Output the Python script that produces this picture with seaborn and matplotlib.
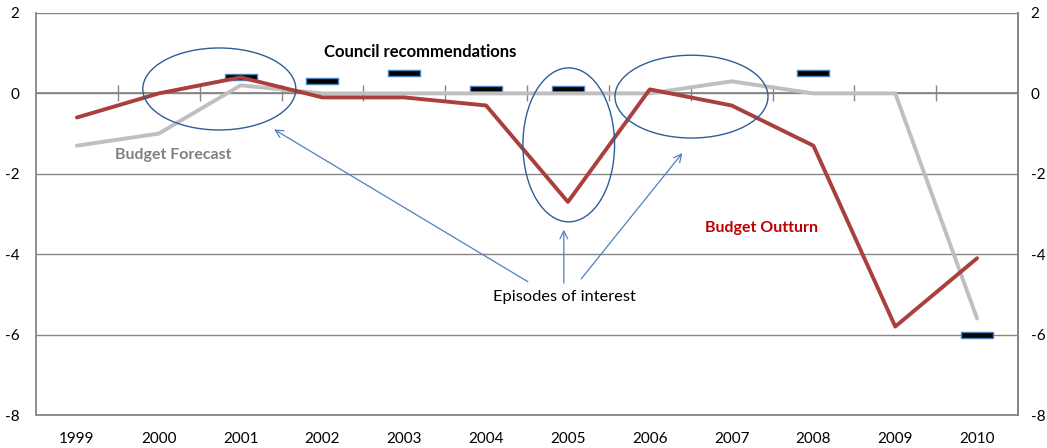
import matplotlib
matplotlib.use("Agg")
import matplotlib.pyplot as plt
import seaborn as sns
import pandas as pd
import numpy as np
from matplotlib.path import Path
from matplotlib.patches import Ellipse

years = [1999, 2000, 2001, 2002, 2003, 2004, 2005, 2006, 2007, 2008, 2009, 2010]
budget_outturn = [-0.6, 0.0, 0.4, -0.1, -0.1, -0.3, -2.7, 0.1, -0.3, -1.3, -5.8, -4.1]
budget_forecast = [-1.3, -1.0, 0.2, 0.0, 0.0, 0.0, 0.0, 0.0, 0.3, 0.0, 0.0, -5.6]
council_years = [2001, 2002, 2003, 2004, 2005, 2008, 2010]
council_values = [0.4, 0.3, 0.5, 0.1, 0.1, 0.5, -6.0]
y_ticks = [2, 0, -2, -4, -6, -8]

df = pd.DataFrame({"year": years, "outturn": budget_outturn, "forecast": budget_forecast})
dc = pd.DataFrame({"year": council_years, "value": council_values})

sns.set_theme(style="white")
plt.rcParams["font.family"] = ["Lato", "DejaVu Sans"]

GRID = "#868686"
fig = plt.figure(figsize=(10.47, 4.48), dpi=100)
ax = fig.add_axes([36/1047, 33/448, (1018-36)/1047, (415-13)/448])

# Council recommendation markers (flat rectangles)
rect = Path([(-1, -0.2), (1, -0.2), (1, 0.2), (-1, 0.2), (-1, -0.2)],
            [Path.MOVETO, Path.LINETO, Path.LINETO, Path.LINETO, Path.CLOSEPOLY])
sns.scatterplot(data=dc, x="year", y="value", marker=rect, s=500, color="black",
                edgecolor="#4F81BD", linewidth=1.0, ax=ax, zorder=2.8, legend=False)

sns.lineplot(data=df, x="year", y="forecast", color="#BFBFBF", lw=2.8, ax=ax, zorder=3)
sns.lineplot(data=df, x="year", y="outturn", color="#A9403C", lw=2.8, ax=ax, zorder=3.1)

ax.set_xlim(1998.5, 2010.5)
ax.set_ylim(-8, 2)
ax.set_yticks(y_ticks)
ax.set_yticklabels([str(v) for v in y_ticks])
ax.set_xticks(years)
ax.set_xticklabels([str(y) for y in years])
ax.set_xlabel("")
ax.set_ylabel("")

ax.yaxis.grid(True, color=GRID, lw=1.0)
ax.xaxis.grid(False)
for side in ["left", "right", "bottom"]:
    ax.spines[side].set_color(GRID)
    ax.spines[side].set_linewidth(1.3)
ax.spines["top"].set_visible(False)

ax.tick_params(axis="y", which="both", left=False, right=False, length=0,
               labelleft=True, labelright=False, labelsize=11, colors="black", pad=12)
ax.tick_params(axis="x", bottom=False, length=0, labelsize=11, pad=12, colors="black")

# Right-hand value axis
secy = ax.secondary_yaxis("right")
secy.set_yticks(y_ticks)
secy.set_yticklabels([str(v) for v in y_ticks])
secy.tick_params(length=0, pad=9, labelsize=11, colors="black")
secy.spines["right"].set_color(GRID)
secy.spines["right"].set_linewidth(1.3)

# Category axis crossing at zero with boundary ticks
secax = ax.secondary_xaxis(0.8)
secax.set_xticks([y + 0.5 for y in years[:-1]])
secax.set_xticklabels([])
secax.tick_params(direction="inout", length=12, width=1, color=GRID)
for s in secax.spines.values():
    s.set_color(GRID)
    s.set_linewidth(1.3)

# Episodes of interest
ell_col = "#2F5D95"
for (cx, cy, w, h) in [(2000.74, 0.11, 1.87, 2.04), (2005.01, -1.28, 1.12, 3.83),
                       (2006.51, -0.08, 1.87, 2.06)]:
    ax.add_patch(Ellipse((cx, cy), w, h, fill=False, edgecolor=ell_col, lw=1.0, zorder=4))

arrow_col = "#4F81BD"
for (tx, ty, hx, hy) in [(2004.54, -4.72, 2001.38, -0.86), (2004.95, -4.79, 2004.95, -3.32),
                         (2005.14, -4.67, 2006.42, -1.43)]:
    ax.annotate("", xy=(hx, hy), xytext=(tx, ty),
                arrowprops=dict(arrowstyle="->", color=arrow_col, lw=0.9,
                                mutation_scale=14), zorder=4)

ax.text(2004.96, -5.06, "Episodes of interest", ha="center", va="center", fontsize=11.8,
        color="black")
ax.text(2003.19, 1.03, "Council recommendations", ha="center", va="center", fontsize=12.0,
        fontweight="bold", color="black")
ax.text(2000.18, -1.53, "Budget Forecast", ha="center", va="center", fontsize=11.5,
        fontweight="bold", color="#808080")
ax.text(2007.36, -3.35, "Budget Outturn", ha="center", va="center", fontsize=11.5,
        fontweight="bold", color="#C00000")

fig.savefig("out.png", dpi=100)
